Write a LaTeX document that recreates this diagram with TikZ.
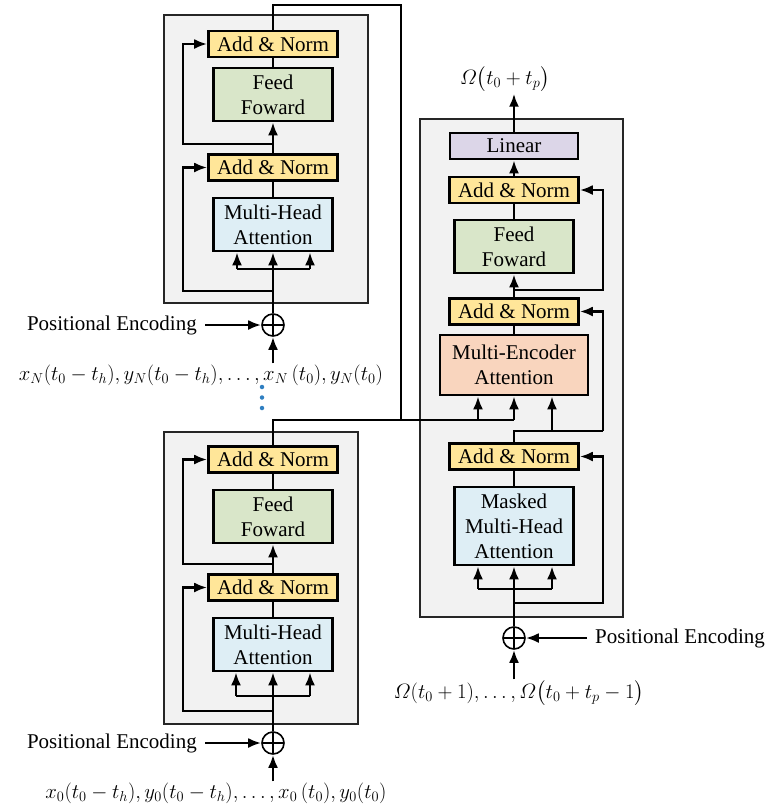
\documentclass[tikz,border=0pt]{standalone}
\usepackage{amsmath}
\usepackage{fontspec}
\setmainfont{Liberation Serif}
\usetikzlibrary{arrows.meta,calc}
\definecolor{anfill}{HTML}{FFE699}
\definecolor{fffill}{HTML}{D9E6C9}
\definecolor{mhfill}{HTML}{DEEEF5}
\definecolor{linfill}{HTML}{DCD6E8}
\definecolor{meafill}{HTML}{F9D5BE}
\definecolor{grayfill}{HTML}{F2F2F2}
\definecolor{dotblue}{HTML}{2F7FC1}
\begin{document}
\begin{tikzpicture}[x=1pt,y=-1pt,
  blk/.style={draw=black,line width=2.6pt,inner sep=0pt,align=center,font=\fontsize{21}{25}\selectfont},
  an/.style={blk,fill=anfill,minimum width=129pt,minimum height=26pt},
  ffb/.style={blk,fill=fffill,minimum width=119pt,minimum height=53pt},
  mhb/.style={blk,fill=mhfill,minimum width=119pt,minimum height=53pt},
  linb/.style={blk,fill=linfill,minimum width=128pt,minimum height=26pt},
  meab/.style={blk,fill=meafill,minimum width=148pt,minimum height=60pt},
  conn/.style={line width=2.6pt},
  arr/.style={conn,-{Latex[length=13pt,width=10pt]}},
  grp/.style={draw=black!85,line width=1.6pt,fill=grayfill},
  plus/.style={circle,draw,line width=1.6pt,minimum size=22pt,inner sep=0pt,
    path picture={\draw[line width=1.6pt] (path picture bounding box.north) -- (path picture bounding box.south) (path picture bounding box.west) -- (path picture bounding box.east);}},
  lbl/.style={font=\fontsize{21}{25}\selectfont,inner sep=0pt},
  mlbl/.style={font=\fontsize{22}{26}\selectfont,inner sep=0pt},
  bdot/.style={circle,fill=dotblue,inner sep=0pt,minimum size=4.5pt}
]
\useasboundingbox (0,0) rectangle (769,807);

% group boxes
\path[grp] (164,15) rectangle (368,303);
\path[grp] (164,432) rectangle (358,724);
\path[grp] (420,119) rectangle (623,617);

% ---------- top encoder ----------
\node[an]  (an1)  at (273,44)    {Add \& Norm};
\node[ffb] (ff1)  at (273,94.5)  {Feed\\Foward};
\node[an]  (an1b) at (273,167.5) {Add \& Norm};
\node[mhb] (mh1)  at (273,224.5) {Multi-Head\\Attention};
\node[plus] (p1) at (273,325) {};
\node[lbl,anchor=east] (pe1) at (197,325) {Positional Encoding};
\node[mlbl] (in1) at (201,375) {$x_N(t_0-t_h), y_N(t_0-t_h), \ldots, x_N\,(t_0), y_N(t_0)$};
\node[bdot] (d1) at (262,387) {};
\node[bdot] (d2) at (262,397.5) {};
\node[bdot] (d3) at (262,408) {};

% ---------- bottom encoder ----------
\node[an]  (an0)  at (273,459.5) {Add \& Norm};
\node[ffb] (ff0)  at (273,516.5) {Feed\\Foward};
\node[an]  (an0b) at (273,587.5) {Add \& Norm};
\node[mhb] (mh0)  at (273,644.5) {Multi-Head\\Attention};
\node[plus] (p0) at (273,743) {};
\node[lbl,anchor=east] (pe0) at (197,743) {Positional Encoding};
\node[mlbl] (in0) at (216,793) {$x_0(t_0-t_h), y_0(t_0-t_h), \ldots, x_0\,(t_0), y_0(t_0)$};

% ---------- decoder ----------
\node[linb] (lin)  at (514,146)   {Linear};
\node[an]   (dan3) at (514,190)   {Add \& Norm};
\node[ffb]  (dff)  at (514,246.5) {Feed\\Foward};
\node[an]   (dan2) at (514,311.5) {Add \& Norm};
\node[meab] (mea)  at (514,365)   {Multi-Encoder\\Attention};
\node[an]   (dan1) at (514,456.5) {Add \& Norm};
\node[mhb,minimum height=78pt] (mmh) at (514,526) {Masked\\Multi-Head\\Attention};
\node[plus] (pd) at (514,638) {};
\node[lbl,anchor=west] (ped) at (595,638) {Positional Encoding};
\node[mlbl] (din) at (519,693) {$\varOmega(t_0+1), \ldots, \varOmega\bigl(t_0+t_p-1\bigr)$};
\node[mlbl] (dout) at (505,79) {$\varOmega\bigl(t_0+t_p\bigr)$};

% ---------- connectors: top encoder ----------
\draw[arr] ($(p1 |- in1.north)+(0,-1)$) -- (p1.south);
\draw[arr] ($(pe1.east)+(8,0)$) -- (p1.west);
\draw[arr] (p1.north) -- (mh1.south);
\coordinate (b1l) at (237,269);
\coordinate (b1r) at (310,269);
\draw[conn] (b1l) -- (b1r);
\draw[arr] (b1l) -- (b1l |- mh1.south);
\draw[arr] (b1r) -- (b1r |- mh1.south);
\draw[arr] (273,291) -- (183,291) |- (an1b.west);
\draw[conn] (mh1.north) -- (an1b.south);
\draw[arr] (an1b.north) -- (ff1.south);
\draw[arr] (273,144) -- (183,144) |- (an1.west);
\draw[conn] (ff1.north) -- (an1.south);
\draw[conn] (an1.north) -- (273,5) -- (401,5) -- (401,420);

% ---------- connectors: bottom encoder ----------
\draw[arr] ($(p0 |- in0.north)+(0,-1)$) -- (p0.south);
\draw[arr] ($(pe0.east)+(8,0)$) -- (p0.west);
\draw[arr] (p0.north) -- (mh0.south);
\coordinate (b0l) at (236,696);
\coordinate (b0r) at (310,696);
\draw[conn] (b0l) -- (b0r);
\draw[arr] (b0l) -- (b0l |- mh0.south);
\draw[arr] (b0r) -- (b0r |- mh0.south);
\draw[arr] (273,711) -- (183,711) |- (an0b.west);
\draw[conn] (mh0.north) -- (an0b.south);
\draw[arr] (an0b.north) -- (ff0.south);
\draw[arr] (273,564) -- (183,564) |- (an0.west);
\draw[conn] (ff0.north) -- (an0.south);
\draw[conn] (an0.north) -- (273,420) -- (514,420);

% ---------- connectors: decoder ----------
\coordinate (m1) at (478,420);
\coordinate (m2) at (514,420);
\draw[arr] (m1) -- (m1 |- mea.south);
\draw[arr] (m2) -- (m2 |- mea.south);
\draw[arr] ($(pd |- din.north)+(0,-1)$) -- (pd.south);
\draw[arr] ($(ped.west)+(-8,0)$) -- (pd.east);
\draw[arr] (pd.north) -- (mmh.south);
\coordinate (bdl) at (478,589);
\coordinate (bdr) at (552,589);
\draw[conn] (bdl) -- (bdr);
\draw[arr] (bdl) -- (bdl |- mmh.south);
\draw[arr] (bdr) -- (bdr |- mmh.south);
\draw[arr] (514,603) -- (603,603) |- (dan1.east);
\draw[conn] (mmh.north) -- (dan1.south);
\draw[conn] (dan1.north) -- (514,431) -- (603,431);
\coordinate (m3) at (552,431);
\draw[arr] (m3) -- (m3 |- mea.south);
\draw[arr] (603,431) |- (dan2.east);
\draw[conn] (mea.north) -- (dan2.south);
\draw[arr] (dan2.north) -- (dff.south);
\draw[arr] (514,290) -- (603,290) |- (dan3.east);
\draw[conn] (dff.north) -- (dan3.south);
\draw[arr] (dan3.north) -- (lin.south);
\draw[arr] (lin.north) -- ($(dout.south -| lin.north)+(0,2)$);
\end{tikzpicture}
\end{document}
